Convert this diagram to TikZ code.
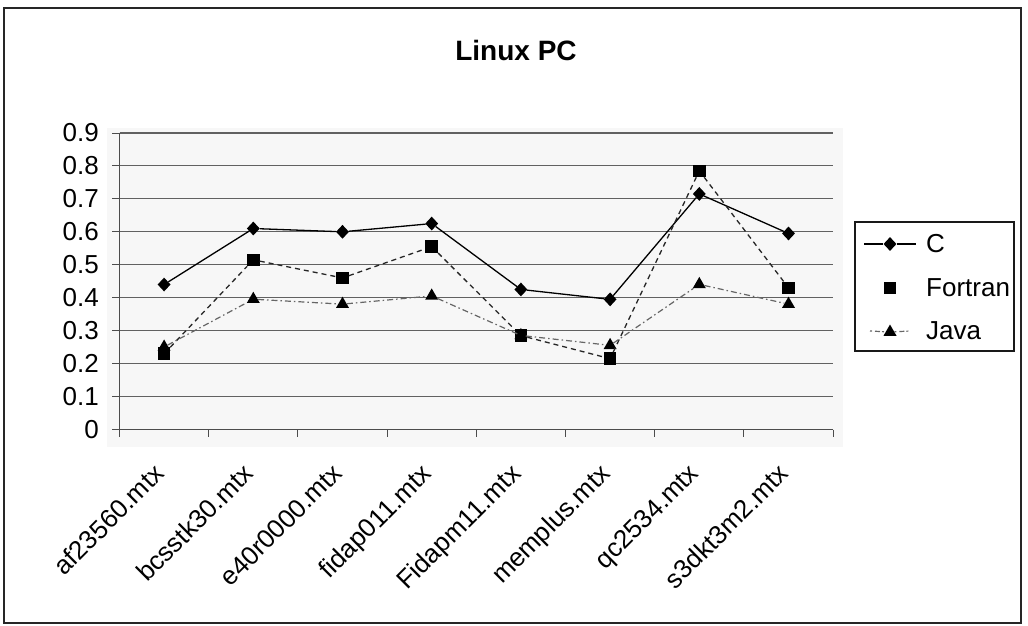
\documentclass[tikz,border=0pt]{standalone}
\usepackage{fontspec}
\setmainfont{Liberation Sans}
\usetikzlibrary{shapes.geometric}
% value on the vertical axis -> drawing coordinate
\newcommand\yv[1]{429.5-329.5*#1}
\begin{document}
\begin{tikzpicture}[x=1pt,y=-1pt,
  gridline/.style={draw=black!62, line width=1.1pt},
  axisline/.style={draw=black!70, line width=0.9pt},
  cmark/.style={diamond, fill=black, inner sep=0pt, minimum width=13pt, minimum height=14pt},
  fmark/.style={rectangle, fill=black, inner sep=0pt, minimum size=12.5pt},
  jmark/.style={regular polygon, regular polygon sides=3, fill=black, inner sep=0pt, minimum size=15pt},
  cline/.style={draw=black, line width=1.3pt},
  fline/.style={draw=black!85, line width=1.3pt, dash pattern=on 5pt off 4pt},
  jline/.style={draw=black!60, line width=1.2pt, dash pattern=on 6pt off 3pt on 1.5pt off 3pt},
  lbl/.style={font=\fontsize{26}{30}\selectfont, inner sep=0pt},
  catlbl/.style={lbl, rotate=45, anchor=north east},
]
\useasboundingbox (0,0) rectangle (1028,625);
% outer frame and title
\draw[line width=1.6pt, black!85] (4,8) rectangle (1021,623);
\node[font=\fontsize{28}{32}\selectfont\bfseries] (title) at (516,50) {Linux PC};

% plot area
\fill[black!3] (107,128) rectangle (843,447);
\foreach \v in {0.1,0.2,...,0.95}
  \draw[gridline] (119.5,{\yv{\v}}) -- (833.1,{\yv{\v}});
\draw[axisline] (119.5,{\yv{0.9}}) -- (119.5,{\yv{0}}) -- (833.1,{\yv{0}});
\foreach \v/\t in {0/0,0.1/0.1,0.2/0.2,0.3/0.3,0.4/0.4,0.5/0.5,0.6/0.6,0.7/0.7,0.8/0.8,0.9/0.9} {
  \draw[axisline] (112,{\yv{\v}}) -- (119.5,{\yv{\v}});
  \node[lbl, anchor=east] (yl\t) at (99,{\yv{\v}}) {\t};
}
\foreach \k in {0,...,8}
  \draw[axisline] ({119.5+89.2*\k},{\yv{0}}) -- ({119.5+89.2*\k},437);

% category labels
\foreach \k/\n in {1/af23560.mtx,2/bcsstk30.mtx,3/e40r0000.mtx,4/fidap011.mtx,
                   5/Fidapm11.mtx,6/memplus.mtx,7/qc2534.mtx,8/s3dkt3m2.mtx}
  \node[catlbl] (cat\k) at ({119.5+89.2*\k-44.6-12},462) {\n};

% data markers
\foreach \k/\c/\f/\j in {1/0.44/0.23/0.255, 2/0.61/0.515/0.40, 3/0.60/0.46/0.385,
                         4/0.625/0.555/0.41, 5/0.425/0.285/0.29, 6/0.395/0.215/0.26,
                         7/0.715/0.785/0.445, 8/0.595/0.43/0.385} {
  \node[cmark] (c\k) at ({119.5+89.2*\k-44.6},{\yv{\c}}) {};
  \node[fmark] (f\k) at ({119.5+89.2*\k-44.6},{\yv{\f}}) {};
  \node[jmark] (j\k) at ({119.5+89.2*\k-44.6},{\yv{\j}+1.5}) {};
}
% series lines
\draw[cline] (c1) -- (c2) -- (c3) -- (c4) -- (c5) -- (c6) -- (c7) -- (c8);
\draw[fline] (f1) -- (f2) -- (f3) -- (f4) -- (f5) -- (f6) -- (f7) -- (f8);
\draw[jline] (j1) -- (j2) -- (j3) -- (j4) -- (j5) -- (j6) -- (j7) -- (j8);

% legend
\draw[line width=1.8pt, black!90] (855,222) rectangle (1014,351);
\node[cmark] (lc) at (890,244) {};
\coordinate (lca) at (864,244);
\coordinate (lcb) at (916,244);
\draw[cline, line width=1.1pt] (lca) -- (lc) -- (lcb);
\node[lbl, anchor=west] (lct) at (926,244) {C};
\node[fmark] (lf) at (890,288) {};
\node[lbl, anchor=west] (lft) at (926,288) {Fortran};
\node[jmark] (lj) at (890,332) {};
\coordinate (lja) at (870,331);
\coordinate (ljb) at (910,331);
\draw[jline, dash pattern=on 2pt off 3pt on 5pt off 2pt] (lja) -- (lj) -- (ljb);
\node[lbl, anchor=west] (ljt) at (926,331) {Java};
\end{tikzpicture}
\end{document}
